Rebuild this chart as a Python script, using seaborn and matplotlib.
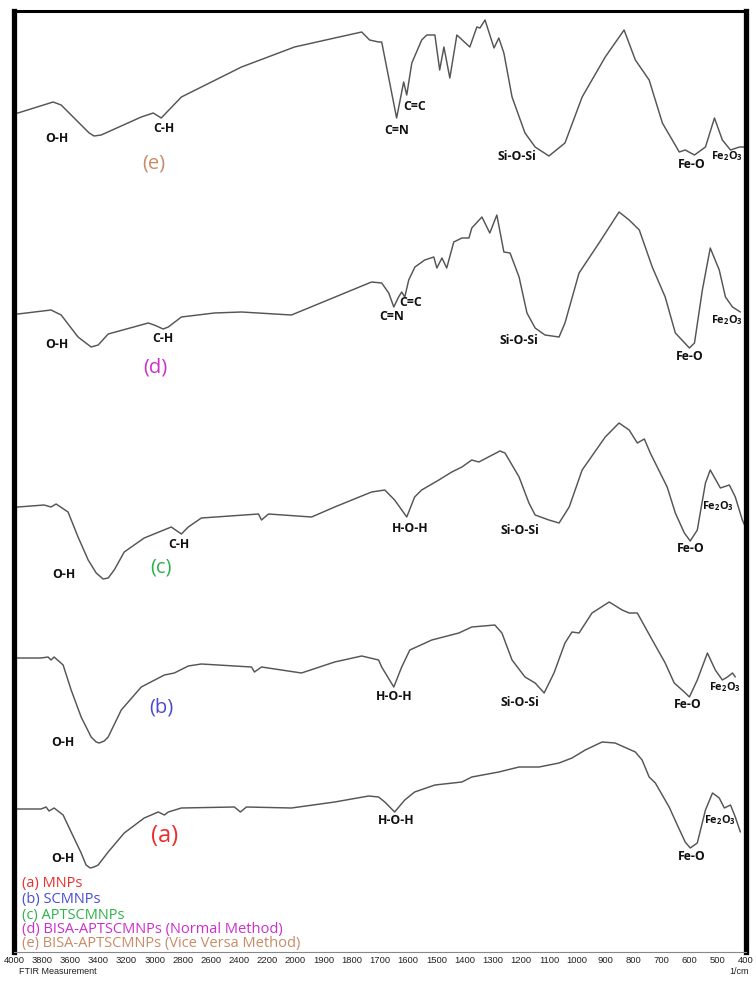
import numpy as np
import pandas as pd
import matplotlib
matplotlib.use("Agg")
import matplotlib.pyplot as plt
import seaborn as sns
from matplotlib.ticker import FixedLocator, FixedFormatter

# ---------------------------------------------------------------------------
# FTIR spectra: wavenumber (1/cm) and stacked transmittance (a.u.)
# ---------------------------------------------------------------------------
wn_a = [4000, 3972, 3808, 3772, 3751, 3715, 3651, 3594, 3523, 3488, 3459, 3431,
        3402, 3331, 3217, 3075, 2975, 2932, 2904, 2811, 2434, 2392, 2349, 2029,
        1861, 1740, 1705, 1683, 1648, 1612, 1577, 1505, 1409, 1374, 1278, 1206,
        1135, 1064, 1018, 971, 911, 865, 793, 769, 744, 722, 673, 644, 616, 598,
        573, 544, 519, 495, 477, 455, 438, 420]
t_a = [14.3, 14.3, 14.3, 14.5, 14.1, 14.4, 13.7, 12.0, 9.9, 8.7, 8.4, 8.5,
       8.7, 10.0, 11.9, 13.4, 14.0, 13.7, 14.0, 14.4, 14.5, 14.0, 14.5, 14.4,
       15.0, 15.6, 15.5, 15.0, 14.0, 15.2, 16.0, 16.7, 17.0, 17.5, 18.0, 18.5,
       18.5, 18.9, 19.4, 20.2, 21.0, 20.9, 20.0, 19.2, 17.5, 16.9, 14.5, 12.7,
       11.0, 10.4, 10.9, 14.2, 15.9, 15.4, 14.4, 14.7, 13.5, 12.0]

wn_b = [4000, 3972, 3808, 3758, 3737, 3715, 3651, 3594, 3523, 3452, 3416, 3395,
        3359, 3331, 3238, 3096, 2932, 2861, 2762, 2669, 2313, 2292, 2242, 1979,
        1861, 1765, 1705, 1694, 1651, 1623, 1594, 1516, 1420, 1374, 1292, 1267,
        1231, 1185, 1149, 1117, 1082, 1043, 1018, 993, 947, 886, 840, 815, 786,
        733, 687, 655, 619, 601, 573, 537, 509, 484, 466, 448, 438]
t_b = [29.4, 29.4, 29.4, 29.5, 29.2, 29.5, 28.7, 26.2, 23.5, 21.5, 21.0, 20.9,
       21.1, 21.5, 24.2, 26.5, 27.7, 27.9, 28.6, 28.8, 28.5, 28.0, 28.5, 27.9,
       29.0, 29.6, 29.2, 28.5, 26.5, 28.5, 30.2, 31.2, 31.9, 32.5, 32.7, 31.9,
       29.2, 27.5, 26.9, 25.9, 27.9, 30.9, 32.0, 31.9, 33.9, 35.0, 34.2, 33.9,
       33.9, 31.2, 28.9, 26.9, 26.0, 25.5, 27.2, 29.9, 28.2, 27.2, 27.5, 27.9,
       27.5]

wn_c = [4000, 3972, 3786, 3737, 3701, 3616, 3545, 3473, 3416, 3367, 3331, 3288,
        3217, 3075, 2883, 2811, 2762, 2669, 2263, 2242, 2192, 1943, 1861, 1730,
        1683, 1648, 1605, 1577, 1552, 1491, 1445, 1409, 1374, 1349, 1274, 1256,
        1206, 1171, 1149, 1100, 1064, 1028, 982, 900, 851, 815, 786, 761, 740,
        680, 651, 619, 598, 573, 544, 527, 491, 459, 438, 413, 402]
t_c = [44.5, 44.5, 44.7, 44.5, 44.8, 44.0, 41.5, 39.2, 37.9, 37.3, 37.4, 38.2,
       40.0, 41.4, 42.5, 41.8, 42.5, 43.4, 43.8, 43.2, 43.8, 43.5, 44.5, 46.0,
       46.2, 45.2, 43.5, 45.5, 46.2, 47.2, 48.0, 48.5, 49.2, 49.0, 50.1, 49.9,
       47.5, 44.9, 43.7, 43.2, 42.9, 44.5, 48.2, 51.5, 52.9, 52.2, 50.9, 51.3,
       49.9, 46.5, 43.9, 41.9, 41.1, 42.2, 46.9, 48.2, 46.4, 46.7, 45.5, 43.2,
       42.5]

wn_d = [4000, 3972, 3737, 3665, 3545, 3452, 3402, 3331, 3046, 3004, 2940, 2904,
        2811, 2577, 2384, 2029, 1730, 1694, 1669, 1651, 1634, 1623, 1612, 1598,
        1576, 1541, 1509, 1498, 1480, 1463, 1438, 1409, 1384, 1374, 1338, 1310,
        1285, 1260, 1238, 1206, 1178, 1149, 1114, 1064, 1043, 993, 922, 851,
        815, 779, 733, 687, 651, 601, 583, 555, 527, 495, 473, 448, 420]
t_d = [63.8, 63.8, 64.2, 63.7, 61.5, 60.5, 60.7, 61.8, 62.9, 62.7, 62.3, 62.5,
       63.5, 63.9, 64.0, 63.7, 67.0, 66.9, 65.9, 64.5, 65.5, 66.0, 65.5, 67.2,
       68.5, 69.2, 69.5, 68.4, 69.4, 68.4, 71.0, 71.4, 71.4, 72.4, 73.5, 71.9,
       73.7, 70.0, 69.9, 67.5, 63.9, 62.4, 61.7, 61.5, 62.9, 67.9, 70.9, 74.0,
       73.2, 72.2, 68.5, 65.5, 61.9, 60.4, 60.9, 66.2, 70.4, 68.2, 65.5, 64.5,
       64.0]

wn_e = [4000, 3972, 3722, 3665, 3466, 3431, 3381, 3096, 3011, 2954, 2811, 2384,
        2007, 1861, 1765, 1737, 1705, 1694, 1641, 1616, 1605, 1587, 1552, 1534,
        1505, 1488, 1473, 1452, 1427, 1381, 1356, 1345, 1327, 1295, 1278, 1260,
        1231, 1185, 1149, 1100, 1043, 982, 900, 833, 793, 744, 697, 637, 616,
        583, 544, 512, 484, 455, 423, 405]
t_e = [83.9, 83.9, 85.0, 84.7, 81.9, 81.6, 81.7, 83.5, 83.9, 83.4, 85.5, 88.5,
       90.5, 91.4, 92.0, 91.2, 91.0, 91.0, 83.4, 87.0, 85.7, 88.9, 91.2, 91.7,
       91.7, 88.2, 90.5, 87.4, 91.7, 90.5, 92.5, 92.4, 93.2, 90.4, 91.4, 89.9,
       85.5, 81.9, 80.5, 79.6, 80.9, 85.5, 89.5, 92.2, 89.2, 87.2, 82.9, 80.0,
       80.2, 79.7, 80.5, 83.4, 81.2, 80.2, 80.5, 80.5]

samples = ["(a)", "(b)", "(c)", "(d)", "(e)"]
sample_names = ["MNPs", "SCMNPs", "APTSCMNPs",
                "BISA-APTSCMNPs (Normal Method)",
                "BISA-APTSCMNPs (Vice Versa Method)"]
sample_colors = ["#e8312f", "#4a4ad6", "#2eb24a", "#cc2fcc", "#c98b66"]

# band assignments: (text, wavenumber, transmittance) for each sample
bands_a = [("O-H", 3651, 9.3), ("H-O-H", 1644, 13.1), ("Fe-O", 594, 9.6),
           ("Fe$_2$O$_3$", 492, 13.2)]
bands_b = [("O-H", 3651, 20.9), ("H-O-H", 1651, 25.6), ("Si-O-Si", 1203, 25.0),
           ("Fe-O", 608, 24.8), ("Fe$_2$O$_3$", 474, 26.5)]
bands_c = [("O-H", 3644, 37.8), ("C-H", 2826, 40.8), ("H-O-H", 1594, 42.3),
           ("Si-O-Si", 1203, 42.2), ("Fe-O", 598, 40.3), ("Fe$_2$O$_3$", 500, 44.6)]
bands_d = [("O-H", 3694, 60.7), ("C-H", 2940, 61.3), ("C=N", 1659, 63.5),
           ("C=C", 1591, 64.9), ("Si-O-Si", 1206, 61.2), ("Fe-O", 601, 59.6),
           ("Fe$_2$O$_3$", 468, 63.2)]
bands_e = [("O-H", 3694, 81.4), ("C-H", 2932, 82.3), ("C=N", 1641, 82.1),
           ("C=C", 1577, 84.6), ("Si-O-Si", 1213, 79.6), ("Fe-O", 594, 78.8),
           ("Fe$_2$O$_3$", 466, 79.6)]
# sample tags placed beside each trace: (wavenumber, transmittance, size)
tags = [(2932, 11.6, 17), (2954, 24.4, 14.5), (2954, 38.5, 14.5),
        (2997, 58.5, 14.5), (3004, 78.9, 14.5)]

major_ticks = [4000, 3800, 3600, 3400, 3200, 3000, 2800, 2600, 2400, 2200, 2000,
               1900, 1800, 1700, 1600, 1500, 1400, 1300, 1200, 1100, 1000, 900,
               800, 700, 600, 500, 400]

# ---------------------------------------------------------------------------
sns.set_style("white")
plt.rcParams["font.family"] = ["Open Sans", "DejaVu Sans"]
plt.rcParams["mathtext.fontset"] = "custom"
plt.rcParams["mathtext.rm"] = "Open Sans:bold"
plt.rcParams["mathtext.it"] = "Open Sans:bold"
plt.rcParams["mathtext.bf"] = "Open Sans:bold"

frames = []
for tag, wn, tr in zip(samples, [wn_a, wn_b, wn_c, wn_d, wn_e],
                       [t_a, t_b, t_c, t_d, t_e]):
    frames.append(pd.DataFrame({"wavenumber": wn, "T": tr, "sample": tag}))
df = pd.concat(frames, ignore_index=True)


def _fwd(w):
    # 2x compressed scale above 2000 1/cm, as on the spectrometer printout
    w = np.asarray(w, dtype=float)
    return np.where(w >= 2000, (w - 4000) / 200.0, -10 + (w - 2000) / 100.0)


def _inv(p):
    p = np.asarray(p, dtype=float)
    return np.where(p >= -10, 4000 + 200 * p, 2000 + 100 * (p + 10))


fig = plt.figure(figsize=(7.56, 9.82), dpi=100)
W, H = 756.0, 982.0
ax = fig.add_axes([14 / W, 1 - 952 / H, (746 - 14) / W, (952 - 11) / H])
ax.set_xscale("function", functions=(_fwd, _inv))

sns.lineplot(data=df, x="wavenumber", y="T", units="sample", estimator=None,
             sort=False, color="#555555", linewidth=1.05, ax=ax, legend=False)

ax.set_xlim(4000, 400)
ax.set_ylim(0, 94.1)

minor = [w for w in range(4000, 2000, -20)] + [w for w in range(2000, 399, -10)]
minor = [w for w in minor if w not in major_ticks]
ax.xaxis.set_major_locator(FixedLocator(major_ticks))
ax.xaxis.set_major_formatter(FixedFormatter([str(t) for t in major_ticks]))
ax.xaxis.set_minor_locator(FixedLocator(minor))
ax.tick_params(axis="x", which="major", direction="in", length=3.5, width=0.6,
               color="#777777", labelsize=6.8, labelcolor="#222222", pad=3)
ax.tick_params(axis="x", which="minor", direction="in", length=1.8, width=0.4,
               color="#999999")
for lab in ax.get_xticklabels():
    lab.set_fontfamily(["Liberation Sans", "DejaVu Sans"])
ax.set_yticks([])
ax.set_xlabel("")
ax.set_ylabel("")

for side in ["left", "right"]:
    ax.spines[side].set_linewidth(3.8)
    ax.spines[side].set_color("black")
ax.spines["top"].set_linewidth(2.2)
ax.spines["top"].set_color("black")
ax.spines["bottom"].set_linewidth(0.8)
ax.spines["bottom"].set_color("#888888")

for bands in [bands_a, bands_b, bands_c, bands_d, bands_e]:
    for text, w, t in bands:
        size = 7.8 if text.startswith("Fe$") else 8.8
        ax.text(w, t, text, ha="center", va="center", fontsize=size,
                fontweight="bold", color="#111111")

for (w, t, size), tag, col in zip(tags, samples, sample_colors):
    ax.text(w, t, tag, ha="center", va="center", fontsize=size, color=col)

legend_y = [884, 900, 915, 930, 944]
for tag, name, col, yp in zip(samples, sample_names, sample_colors, legend_y):
    fig.text(22 / W, 1 - yp / H, f"{tag} {name}", ha="left", va="center",
             fontsize=10.5, color=col)

fig.text(19 / W, 1 - 972 / H, "FTIR Measurement", ha="left", va="center",
         fontsize=6.5, color="#222222", family=["Liberation Sans", "DejaVu Sans"])
fig.text(739 / W, 1 - 972 / H, "1/cm", ha="center", va="center",
         fontsize=6.5, color="#222222", family=["Liberation Sans", "DejaVu Sans"])

fig.savefig("out.png", dpi=100, facecolor="white")
